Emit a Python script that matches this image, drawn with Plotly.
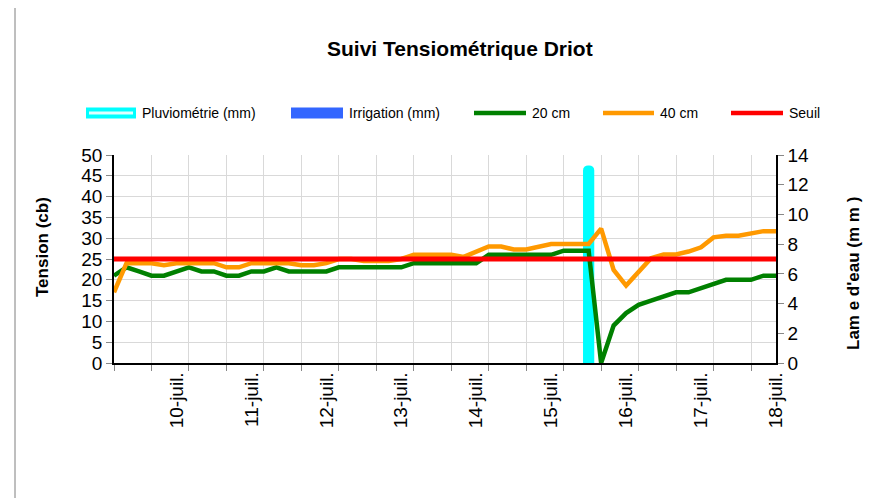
import pandas as pd
import plotly.graph_objects as go

# ---------------- data ----------------
dates = pd.date_range("2024-07-09 04:00", "2024-07-18 00:00", freq="4h")  # 54 readings

tension_20cm = [21, 23, 22, 21, 21, 22, 23, 22, 22, 21,
                21, 22, 22, 23, 22, 22, 22, 22, 23, 23,
                23, 23, 23, 23, 24, 24, 24, 24, 24, 24,
                26, 26, 26, 26, 26, 26, 27, 27, 27, 0,
                9, 12, 14, 15, 16, 17, 17, 18, 19, 20,
                20, 20, 21, 21]

tension_40cm = [17, 24, 24, 24, 23.5, 24, 24, 24, 24, 23,
                23, 24, 24, 24, 24, 23.5, 23.5, 24, 25, 25,
                24.5, 24.5, 24.5, 25, 26, 26, 26, 26, 25.5, 26.7,
                28, 28, 27.3, 27.3, 28, 28.6, 28.6, 28.6, 28.6, 32.3,
                22.4, 18.6, 22, 25.2, 26.1, 26.1, 26.8, 27.8, 30.2, 30.6,
                30.6, 31.2, 31.7, 31.7]

seuil = [25, 25, 25, 25, 25, 25, 25, 25, 25, 25,
         25, 25, 25, 25, 25, 25, 25, 25, 25, 25,
         25, 25, 25, 25, 25, 25, 25, 25, 25, 25,
         25, 25, 25, 25, 25, 25, 25, 25, 25, 25,
         25, 25, 25, 25, 25, 25, 25, 25, 25, 25,
         25, 25, 25, 25]

pluviometrie = [0, 0, 0, 0, 0, 0, 0, 0, 0, 0,
                0, 0, 0, 0, 0, 0, 0, 0, 0, 0,
                0, 0, 0, 0, 0, 0, 0, 0, 0, 0,
                0, 0, 0, 0, 0, 0, 0, 0, 13.3, 0,
                0, 0, 0, 0, 0, 0, 0, 0, 0, 0,
                0, 0, 0, 0]

irrigation = [0] * 54

day_ticks = ["2024-07-10", "2024-07-11", "2024-07-12", "2024-07-13", "2024-07-14",
             "2024-07-15", "2024-07-16", "2024-07-17", "2024-07-18"]
day_labels = ["10-juil.", "11-juil.", "12-juil.", "13-juil.", "14-juil.",
              "15-juil.", "16-juil.", "17-juil.", "18-juil."]

# ---------------- styling / layout helpers ----------------
OFF = 8                      # page body margin of the html page
W, H = 895 - OFF, 498 - OFF
L, R, T, B = 114, 776, 155, 363   # plot area in window pixels
FONT = "Arial, Liberation Sans, sans-serif"

def px_x(px):
    return (px - L) / (R - L)

def px_y(py):
    return (B - py) / (B - T)

GREEN = "#008000"
ORANGE = "#FF9900"
RED = "#FF0000"
CYAN = "#00FFFF"
BLUE = "#3366FF"
GRID = "#D9D9D9"

fig = go.Figure()

# bars on the primary (right-side) axis so that lines are drawn above them
fig.add_trace(go.Bar(x=dates, y=pluviometrie, name="Pluviométrie (mm)",
                     marker=dict(color=CYAN, line=dict(width=0), cornerradius=5),
                     width=3.6 * 3600 * 1000, yaxis="y", showlegend=False))
fig.add_trace(go.Bar(x=dates, y=irrigation, name="Irrigation (mm)",
                     marker=dict(color=BLUE, line=dict(width=0)),
                     width=3.6 * 3600 * 1000, yaxis="y", showlegend=False))

fig.add_trace(go.Scatter(x=dates, y=tension_20cm, name="20 cm", mode="lines",
                         line=dict(color=GREEN, width=4.5), yaxis="y2", showlegend=False))
fig.add_trace(go.Scatter(x=dates, y=tension_40cm, name="40 cm", mode="lines",
                         line=dict(color=ORANGE, width=4.5), yaxis="y2", showlegend=False))
fig.add_trace(go.Scatter(x=dates, y=seuil, name="Seuil", mode="lines",
                         line=dict(color=RED, width=5), yaxis="y2", showlegend=False))

fig.update_layout(
    width=W, height=H,
    margin=dict(l=L - OFF, r=W - (R - OFF), t=T - OFF, b=H - (B - OFF), pad=0),
    paper_bgcolor="white", plot_bgcolor="white",
    font=dict(family=FONT, color="black"),
    barmode="overlay",
    showlegend=False,
    xaxis=dict(
        type="date",
        range=[dates[0], dates[-1]],
        tickmode="array", tickvals=day_ticks, ticktext=day_labels,
        tickangle=-90, ticks="", showgrid=False,
        tickfont=dict(size=19, family=FONT, color="black"),
        showline=True, linecolor="black", linewidth=1.5,
        minor=dict(tick0=dates[0], dtick=12 * 3600 * 1000, ticks="outside",
                   ticklen=6, tickcolor="#888888", showgrid=True,
                   gridcolor=GRID, gridwidth=1),
    ),
    yaxis=dict(
        range=[0, 14], dtick=2, side="right",
        showgrid=False, zeroline=False,
        showline=True, linecolor="black", linewidth=1.5,
        ticks="outside", ticklen=6, tickcolor="#888888",
        tickfont=dict(size=19, family=FONT, color="black"),
    ),
    yaxis2=dict(
        range=[0, 50], dtick=5, side="left", overlaying="y",
        showgrid=True, gridcolor=GRID, gridwidth=1, zeroline=False,
        showline=True, linecolor="black", linewidth=1.5,
        ticks="outside", ticklen=6, tickcolor="#888888",
        tickfont=dict(size=19, family=FONT, color="black"),
    ),
)

annotations = [
    dict(text="<b>Suivi Tensiométrique Driot</b>", x=px_x(460), y=px_y(48),
         font=dict(size=21, family=FONT)),
    dict(text="<b>Tension (cb)</b>", x=px_x(42), y=px_y(247), textangle=-90,
         font=dict(size=17, family=FONT)),
    dict(text="<b>Lam e d'eau (m m )</b>", x=px_x(853), y=px_y(274), textangle=-90,
         font=dict(size=17, family=FONT)),
]
for a in annotations:
    a.update(xref="paper", yref="paper", showarrow=False, xanchor="center", yanchor="middle")

# manual legend (matching the reference's wide symbols)
LEG_Y = 113
legend_items = [
    ("box", CYAN, 86, 136, "Pluviométrie (mm)", 140),
    ("box", BLUE, 291, 343, "Irrigation (mm)", 347),
    ("line", GREEN, 474, 526, "20 cm", 530),
    ("line", ORANGE, 603, 654, "40 cm", 658),
    ("line", RED, 731, 783, "Seuil", 787),
]
shapes = []
for kind, color, x0, x1, label, tx in legend_items:
    if kind == "box":
        shapes.append(dict(type="rect", xref="paper", yref="paper",
                           x0=px_x(x0), x1=px_x(x1), y0=px_y(LEG_Y + 5.5), y1=px_y(LEG_Y - 5.5),
                           fillcolor=color, line=dict(width=0)))
        if color == CYAN:
            shapes.append(dict(type="line", xref="paper", yref="paper",
                               x0=px_x(x0 + 3), x1=px_x(x1 - 3), y0=px_y(LEG_Y), y1=px_y(LEG_Y),
                               line=dict(color="#DFFFFF", width=3)))
    else:
        shapes.append(dict(type="line", xref="paper", yref="paper",
                           x0=px_x(x0), x1=px_x(x1), y0=px_y(LEG_Y), y1=px_y(LEG_Y),
                           line=dict(color=color, width=4.5)))
    annotations.append(dict(text=label, xref="paper", yref="paper", showarrow=False,
                            x=px_x(tx), y=px_y(LEG_Y), xanchor="left", yanchor="middle",
                            font=dict(size=14, family=FONT)))

# chart area left border
shapes.append(dict(type="line", xref="paper", yref="paper",
                   x0=px_x(15), x1=px_x(15), y0=px_y(OFF), y1=px_y(498),
                   line=dict(color="#7F7F7F", width=1)))

fig.update_layout(annotations=annotations, shapes=shapes)

fig.write_html("out.html")
